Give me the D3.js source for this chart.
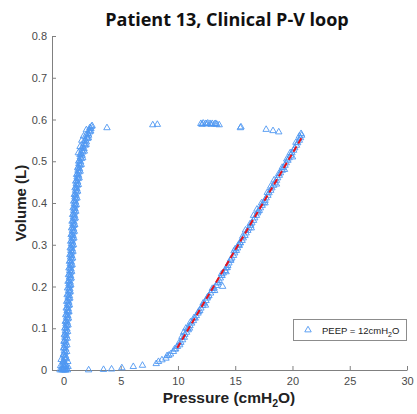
<!DOCTYPE html>
<html>
<head>
<meta charset="utf-8">
<script src="https://cdn.jsdelivr.net/npm/d3@7"></script>
<style>
  html, body { margin: 0; padding: 0; background: #fff; }
  svg { display: block; }
</style>
</head>
<body>
<svg id="chart" width="417" height="414"></svg>
<script>
// ---------------- DATA ----------------
const titleText = "Patient 13, Clinical P-V loop";
const xTicks = [0, 5, 10, 15, 20, 25, 30];
const yTicks = [0, 0.1, 0.2, 0.3, 0.4, 0.5, 0.6, 0.7, 0.8];
const legendLabel = "PEEP = 12cmH";

// left (near-zero pressure) limb: [pressure, volume]
const leftLimb = [
 [-0.15,0.000],[0.05,0.000],[0.2,0.000],[-0.05,0.000],[0.15,0.000],
 [-0.3,0.000],[0.35,0.000],[-0.25,0.010],[0.4,0.008],[-0.2,0.025],[0.38,0.020],
 [0.0,0.003],[0.25,0.003],[-0.1,0.006],[0.1,0.006],[0.05,0.010],[0.22,0.010],
 [-0.05,0.014],[0.15,0.014],[0.1,0.018],[0.0,0.022],[0.16,0.026],[0.06,0.030],
 [0.18,0.034],[0.02,0.038],[0.14,0.042],[0.08,0.046],[0.2,0.050],[0.04,0.054],
 [0.17,0.058],[0.1,0.062],[0.22,0.066],[0.08,0.070],[0.2,0.074],[0.13,0.078],
 [0.26,0.082],[0.12,0.086],[0.24,0.090],[0.17,0.094],[0.3,0.098],[0.18,0.102],
 [0.3,0.106],[0.22,0.110],[0.33,0.114],[0.24,0.118],[0.36,0.122],[0.27,0.126],
 [0.38,0.130],[0.28,0.134],[0.41,0.138],[0.32,0.142],[0.42,0.146],[0.33,0.150],
 [0.45,0.154],[0.36,0.158],[0.47,0.162],[0.38,0.166],[0.48,0.170],[0.41,0.174],
 [0.52,0.178],[0.42,0.182],[0.54,0.186],[0.45,0.190],[0.56,0.194],[0.47,0.198],
 [0.57,0.202],[0.48,0.206],[0.59,0.210],[0.5,0.214],[0.6,0.218],[0.52,0.222],
 [0.62,0.226],[0.54,0.230],[0.64,0.234],[0.55,0.238],[0.66,0.242],[0.57,0.246],
 [0.67,0.250],[0.59,0.254],[0.69,0.258],[0.6,0.262],[0.7,0.266],[0.62,0.270],
 [0.72,0.274],[0.64,0.278],[0.74,0.282],[0.65,0.286],[0.76,0.290],[0.67,0.294],
 [0.78,0.298],[0.69,0.302],[0.79,0.306],[0.72,0.310],[0.82,0.314],[0.74,0.318],
 [0.84,0.322],[0.76,0.326],[0.86,0.330],[0.78,0.334],[0.88,0.338],[0.8,0.342],
 [0.9,0.346],[0.82,0.350],[0.92,0.354],[0.84,0.358],[0.95,0.362],[0.86,0.366],
 [0.97,0.370],[0.89,0.374],[0.99,0.378],[0.9,0.382],[1.01,0.386],[0.93,0.390],
 [1.03,0.394],[0.95,0.398],[1.05,0.402],[0.98,0.406],[1.08,0.410],[1.0,0.414],
 [1.1,0.418],[1.03,0.422],[1.14,0.426],[1.06,0.430],[1.17,0.434],[1.09,0.438],
 [1.2,0.442],[1.12,0.446],[1.24,0.450],[1.15,0.454],[1.28,0.458],[1.19,0.462],
 [1.32,0.466],[1.23,0.470],[1.36,0.474],[1.27,0.478],[1.4,0.482],[1.3,0.486],
 [1.45,0.490],[1.35,0.494],[1.5,0.498],[1.4,0.502],[1.56,0.506],[1.47,0.510],
 [1.63,0.514],[1.55,0.518],[1.7,0.522],[1.62,0.526],[1.8,0.530],[1.7,0.534],
 [1.9,0.538],[1.8,0.542],[2.0,0.546],[1.92,0.550],[2.1,0.554],[2.05,0.558],
 [2.2,0.562],[2.15,0.566],[2.3,0.570],[2.25,0.574],[2.4,0.578],[2.45,0.583],
 [2.0,0.575],
 [-0.08,0.002],[0.18,0.002],[0.21,0.012],[-0.03,0.020],[0.25,0.028],[0.0,0.036],
 [0.28,0.044],[0.03,0.052],[0.3,0.060],[0.05,0.068],[0.33,0.076],[0.08,0.084],
 [0.36,0.092],[0.12,0.100],[0.4,0.108],[0.16,0.116],[0.44,0.124],[0.2,0.132],
 [0.48,0.140],[0.24,0.148],[0.52,0.156],[0.28,0.164],[0.56,0.172],[0.32,0.180],
 [0.6,0.188],[0.36,0.196],[0.64,0.204],[0.4,0.212],[0.68,0.220],[0.44,0.228],
 [0.72,0.236],[0.48,0.244],[0.76,0.252],[0.52,0.260],[0.8,0.268],[0.56,0.276],
 [0.83,0.284],[0.59,0.292],[0.87,0.300],[0.63,0.308],[0.91,0.316],[0.67,0.324],
 [0.95,0.332],[0.71,0.340],[0.99,0.348],[0.75,0.356],[1.03,0.364],[0.8,0.372],
 [1.08,0.380],[0.84,0.388],[1.12,0.396],[0.89,0.404],[1.18,0.412],[0.95,0.420],
 [1.24,0.428],[1.01,0.436],[1.3,0.444],[1.07,0.452],[1.37,0.460],[1.15,0.468],
 [1.46,0.476],[1.24,0.484],[1.55,0.492],[1.33,0.500],[1.68,0.508],[1.44,0.516],
 [1.82,0.524],[1.6,0.532],[1.98,0.540],[1.8,0.548],[2.18,0.556],[2.0,0.564],
 [2.38,0.572],[2.3,0.580],[2.5,0.585],
 [1.3,0.520],[1.45,0.535],[1.6,0.550],[1.75,0.560]
];

// top plateau: [pressure, volume]
const plateau = [
 [3.8,0.580],[7.8,0.587],[8.2,0.588],
 [12.0,0.590],[12.2,0.591],[12.4,0.590],[12.6,0.591],[12.8,0.590],[13.0,0.590],
 [13.2,0.589],[13.4,0.588],[13.6,0.587],[12.1,0.588],[12.5,0.589],[12.9,0.588],
 [13.3,0.590],[15.45,0.580],[15.5,0.582],[17.7,0.576],[18.3,0.573],[18.8,0.570]
];

// bottom + linear (high pressure) limb: [pressure, volume]
const rightLimb = [
 [2.2,0.000],[3.5,0.001],[4.2,0.002],[5.1,0.005],[6.1,0.008],[6.9,0.011],
 [8.1,0.015],[8.3,0.020],[8.6,0.024],[8.95,0.028],[9.05,0.034],[9.35,0.038],
 [9.6,0.044],[9.8,0.050],[9.95,0.056],[10.15,0.060],[10.25,0.066],[10.4,0.072],
 [10.55,0.078],[10.6,0.085],[10.75,0.090],[10.9,0.096],[10.85,0.100],[11.05,0.106],
 [11.2,0.112],[11.35,0.118],[11.5,0.124],[11.6,0.130],[11.75,0.136],[11.9,0.142],
 [12.0,0.148],[12.15,0.154],[12.3,0.160],[12.45,0.166],[12.55,0.172],[12.7,0.178],
 [12.85,0.184],[13.0,0.190],[13.15,0.196],[13.35,0.202],[13.45,0.208],[13.6,0.214],
 [13.7,0.220],[13.85,0.226],[13.95,0.232],[14.1,0.238],[14.2,0.244],[14.35,0.250],
 [14.45,0.256],[14.6,0.262],[14.7,0.268],[14.85,0.274],[14.95,0.280],[15.1,0.286],
 [15.2,0.292],[15.35,0.298],[15.45,0.304],[15.6,0.310],[15.7,0.316],[15.85,0.322],
 [15.95,0.328],[16.1,0.334],[16.2,0.340],[16.35,0.346],[16.45,0.352],[16.6,0.358],
 [16.7,0.364],[16.85,0.370],[16.95,0.376],[17.1,0.382],[17.2,0.388],[17.35,0.394],
 [17.45,0.400],[17.6,0.406],[17.7,0.412],[17.85,0.418],[17.95,0.424],[18.1,0.430],
 [18.2,0.436],[18.35,0.442],[18.45,0.448],[18.6,0.454],[18.7,0.460],[18.85,0.466],
 [18.95,0.472],[19.1,0.478],[19.2,0.484],[19.35,0.490],[19.45,0.496],[19.6,0.502],
 [19.7,0.508],[19.85,0.514],[19.95,0.520],[20.1,0.526],[20.2,0.532],[20.35,0.538],
 [20.45,0.544],[20.6,0.550],[20.7,0.556],[20.8,0.562],[20.75,0.566],
 [10.5,0.090],[11.0,0.100],[12.4,0.155],[13.2,0.190],[13.9,0.200],[14.2,0.235],
 [15.0,0.290],[15.4,0.305],[16.4,0.340],[17.0,0.380],[17.6,0.400],[18.6,0.445],
 [19.3,0.480],[20.0,0.510],
 [9.2,0.035],[9.7,0.050],[10.1,0.065],[10.35,0.080],[10.7,0.100],[11.1,0.115],
 [11.4,0.125],[11.8,0.140],[12.2,0.160],[12.6,0.175],[13.0,0.195],[13.5,0.210],
 [13.8,0.230],[14.3,0.245],[14.6,0.265],[14.9,0.285],[15.3,0.300],[15.65,0.320],
 [15.9,0.335],[16.3,0.350],[16.6,0.370],[16.9,0.385],[17.3,0.400],[17.8,0.425],
 [18.1,0.440],[18.4,0.455],[18.8,0.470],[19.1,0.485],[19.5,0.505],[19.8,0.520],
 [20.3,0.545],[20.6,0.560]
];

// linear fit line (red dashed)
const fitP = [9.94, 20.84];
const fitV = [0.053, 0.558];

// ---------------- CHART ----------------
const svg = d3.select("#chart");
const x = d3.scaleLinear().domain([-1, 30]).range([52, 407]);
const y = d3.scaleLinear().domain([0, 0.8]).range([370, 36]);

const axisColor = "#808080";
const tickTextColor = "#4a4a4a";
const markerColor = "#4f97f2";

// axes
const gx = svg.append("g").attr("transform", `translate(0,${y(0)})`)
  .call(d3.axisBottom(x).tickValues(xTicks).tickFormat(d3.format("d"))
        .tickSizeInner(-4).tickSizeOuter(0).tickPadding(7));
const gy = svg.append("g").attr("transform", `translate(${x(-1)},0)`)
  .call(d3.axisLeft(y).tickValues(yTicks).tickFormat(d => d === 0 ? "0" : d3.format(".1f")(d))
        .tickSizeInner(-4).tickSizeOuter(0).tickPadding(5));
[gx, gy].forEach(g => {
  g.select(".domain").attr("stroke", axisColor).attr("stroke-width", 1);
  g.selectAll(".tick line").attr("stroke", axisColor);
  g.selectAll(".tick text").attr("fill", tickTextColor)
    .style("font-family", "'Liberation Sans', Arial, sans-serif").style("font-size", "11px");
});

// markers
const tri = d3.symbol().type(d3.symbolTriangle).size(18);
const allPts = leftLimb.concat(plateau, rightLimb);
svg.append("g").selectAll("path").data(allPts).join("path")
  .attr("d", tri)
  .attr("transform", d => `translate(${x(d[0])},${y(d[1])})`)
  .attr("fill", "none").attr("stroke", markerColor).attr("stroke-width", 0.9);

// fit line
svg.append("line")
  .attr("x1", x(fitP[0])).attr("y1", y(fitV[0]))
  .attr("x2", x(fitP[1])).attr("y2", y(fitV[1]))
  .attr("stroke", "#e8141c").attr("stroke-width", 2)
  .attr("stroke-dasharray", "6,3.5");

// title
svg.append("text").attr("x", 227).attr("y", 26).attr("text-anchor", "middle")
  .style("font-family", "'Open Sans', sans-serif").style("font-weight", "bold")
  .style("font-size", "18px").attr("fill", "#111").text(titleText);

// x label
const xl = svg.append("text").attr("x", 229).attr("y", 403).attr("text-anchor", "middle")
  .style("font-family", "'Liberation Sans', Arial, sans-serif").style("font-weight", "bold")
  .style("font-size", "15.5px").attr("fill", "#222");
xl.append("tspan").text("Pressure (cmH");
xl.append("tspan").attr("dy", 4).style("font-size", "10.5px").text("2");
xl.append("tspan").attr("dy", -4).text("O)");

// y label
svg.append("text").attr("transform", `translate(26,${y(0.4)}) rotate(-90)`)
  .attr("text-anchor", "middle")
  .style("font-family", "'Liberation Sans', Arial, sans-serif").style("font-weight", "bold")
  .style("font-size", "15px").attr("fill", "#222").text("Volume (L)");

// legend
const lg = svg.append("g");
lg.append("rect").attr("x", 293.5).attr("y", 319.5).attr("width", 113).attr("height", 21)
  .attr("fill", "#fff").attr("stroke", "#8c8c8c").attr("stroke-width", 1);
lg.append("path").attr("d", tri).attr("transform", "translate(308,330)")
  .attr("fill", "none").attr("stroke", markerColor).attr("stroke-width", 0.9);
const lt = lg.append("text").attr("x", 322).attr("y", 333.5)
  .style("font-family", "'Liberation Sans', Arial, sans-serif").style("font-size", "9.5px")
  .attr("fill", "#222");
lt.append("tspan").text(legendLabel);
lt.append("tspan").attr("dy", 3).style("font-size", "7px").text("2");
lt.append("tspan").attr("dy", -3).text("O");
</script>
</body>
</html>
